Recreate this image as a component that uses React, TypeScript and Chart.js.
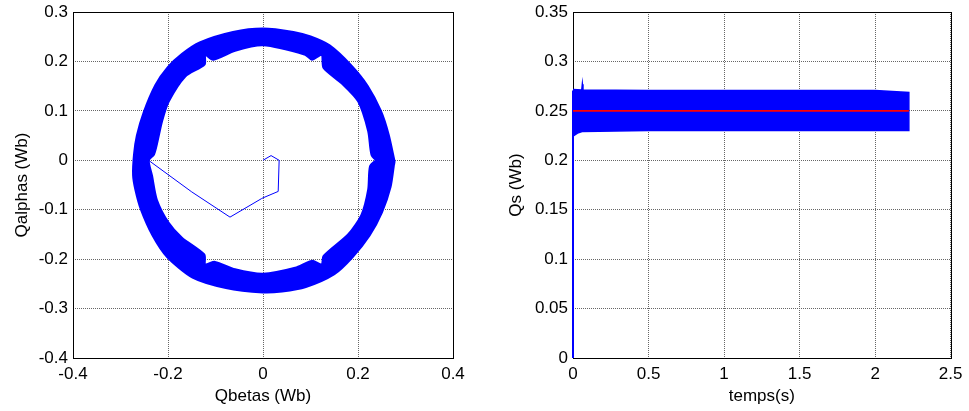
import React, { useEffect, useRef } from 'react';
import { Chart, registerables } from 'chart.js';
Chart.register(...registerables);

const FONT = '"Liberation Sans", Arial, Helvetica, sans-serif';

// ---------- Left plot: stator flux trajectory ----------
const outerX = [0.276, 0.264, 0.248, 0.22, 0.185, 0.14, 0.1, 0.064, 0.0, -0.063, -0.133, -0.17, -0.2, -0.226, -0.251, -0.265, -0.271, -0.273, -0.268, -0.257, -0.232, -0.201, -0.148, -0.078, 0.0, 0.04, 0.09, 0.15, 0.188, 0.224, 0.25, 0.268, 0.275];
const outerY = [0.0, 0.052, 0.099, 0.15, 0.192, 0.232, 0.25, 0.259, 0.266, 0.259, 0.238, 0.215, 0.188, 0.152, 0.096, 0.05, 0.012, -0.03, -0.06, -0.098, -0.152, -0.196, -0.237, -0.258, -0.267, -0.265, -0.256, -0.23, -0.196, -0.152, -0.105, -0.054, -0.01];
const innerX = [0.241, 0.229, 0.222, 0.201, 0.166, 0.128, 0.124, 0.103, 0.089, 0.0, -0.059, -0.105, -0.122, -0.1235, -0.164, -0.199, -0.213, -0.224, -0.23, -0.241, -0.234, -0.224, -0.199, -0.171, -0.124, -0.122, -0.101, -0.059, 0.0, 0.068, 0.103, 0.124, 0.128, 0.18, 0.208, 0.222, 0.226];
const innerY = [0.0, 0.011, 0.059, 0.119, 0.156, 0.187, 0.214, 0.204, 0.214, 0.233, 0.222, 0.204, 0.214, 0.194, 0.17, 0.119, 0.079, 0.032, 0.012, 0.0, -0.032, -0.08, -0.127, -0.157, -0.191, -0.211, -0.206, -0.221, -0.23, -0.218, -0.204, -0.211, -0.194, -0.15, -0.11, -0.059, -0.012];
const transientX = [0.0, 0.017, 0.034, 0.032, 0.0, -0.003, -0.0695, -0.15, -0.241];
const transientY = [0.0, 0.0095, 0.0, -0.063, -0.076, -0.0775, -0.115, -0.064, 0.0];

const xTicksLeft = [-0.4, -0.2, 0, 0.2, 0.4];
const xLabelsLeft = ['-0.4', '-0.2', '0', '0.2', '0.4'];
const yTicksLeft = [-0.4, -0.3, -0.2, -0.1, 0, 0.1, 0.2, 0.3];
const yLabelsLeft = ['-0.4', '-0.3', '-0.2', '-0.1', '0', '0.1', '0.2', '0.3'];

// ---------- Right plot: flux magnitude vs time ----------
const bandTopT = [0.0, 0.058, 0.062, 0.066, 0.5, 1.0, 1.5, 2.0, 2.223];
const bandTopQ = [0.2715, 0.271, 0.277, 0.271, 0.2705, 0.2705, 0.2705, 0.2705, 0.2685];
const bandBottomT = [0.0, 0.03, 0.06, 0.5, 1.0, 1.5, 2.0, 2.223];
const bandBottomQ = [0.2245, 0.2275, 0.229, 0.2302, 0.2302, 0.2302, 0.2302, 0.2302];
const startT = [0.0, 0.0];
const startQ = [0.0, 0.2705];
const refT = [0.0, 2.223];
const refQ = [0.25, 0.25];

const xTicksRight = [0, 0.5, 1, 1.5, 2, 2.5];
const xLabelsRight = ['0', '0.5', '1', '1.5', '2', '2.5'];
const yTicksRight = [0, 0.05, 0.1, 0.15, 0.2, 0.25, 0.3, 0.35];
const yLabelsRight = ['0', '0.05', '0.1', '0.15', '0.2', '0.25', '0.3', '0.35'];

const BLUE = '#0000ff';

const pts = (xs: number[], ys: number[]) => xs.map((x, i) => ({ x, y: ys[i] }));

const boxPlugin = {
  id: 'box',
  beforeDatasetsDraw(chart: any) {
    const { ctx, chartArea: a } = chart;
    ctx.save();
    ctx.strokeStyle = '#000';
    ctx.lineWidth = 1;
    ctx.strokeRect(Math.round(a.left) + 0.5, Math.round(a.top) + 0.5, Math.round(a.right - a.left), Math.round(a.bottom - a.top));
    ctx.restore();
  },
};

function axis(opts: {
  min: number; max: number; ticks: number[]; labels: string[]; title: string;
  horizontal: boolean; size: number; titlePad: number;
}) {
  return {
    type: 'linear',
    position: opts.horizontal ? 'bottom' : 'left',
    min: opts.min,
    max: opts.max,
    afterBuildTicks: (scale: any) => {
      scale.ticks = opts.ticks.map((v) => ({ value: v }));
    },
    afterFit: (scale: any) => {
      if (opts.horizontal) scale.height = opts.size;
      else scale.width = opts.size;
    },
    ticks: {
      color: '#000',
      font: opts.horizontal ? { family: FONT, size: 17 } : { family: FONT, size: 17, lineHeight: 0.8 },
      padding: opts.horizontal ? 6.5 : 5,
      maxRotation: 0,
      autoSkip: false,
      callback: (_v: any, i: number) => opts.labels[i],
    },
    grid: { color: '#666666', lineWidth: 1, drawTicks: false },
    border: { display: false, dash: [1, 1] },
    title: {
      display: true,
      text: opts.title,
      color: '#000',
      font: { family: FONT, size: 17 },
      padding: opts.horizontal ? { top: 0, bottom: 4 } : { top: opts.titlePad, bottom: 0 },
    },
  };
}

function baseOptions(padRight: number, x: any, y: any) {
  return {
    responsive: false,
    animation: false,
    events: [],
    layout: { padding: { top: 12, right: padRight, left: 0, bottom: 0 } },
    plugins: { legend: { display: false }, tooltip: { enabled: false } },
    elements: { point: { radius: 0 }, line: { tension: 0 } },
    scales: { x, y },
  };
}

function LeftChart() {
  const ref = useRef<HTMLCanvasElement>(null);
  useEffect(() => {
    const ringData = [
      ...pts(outerX, outerY),
      { x: outerX[0], y: outerY[0] },
      { x: innerX[0], y: innerY[0] },
      ...pts(innerX.slice(1).reverse(), innerY.slice(1).reverse()),
      { x: innerX[0], y: innerY[0] },
      { x: outerX[0], y: outerY[0] },
    ];
    const chart = new Chart(ref.current!, {
      type: 'line',
      data: {
        datasets: [
          { data: pts(transientX, transientY), borderColor: BLUE, borderWidth: 1, fill: false },
          { data: ringData, borderColor: BLUE, backgroundColor: BLUE, borderWidth: 2.5, borderJoinStyle: 'round', tension: 0.25, fill: 'shape' },
        ],
      },
      options: baseOptions(
        27,
        axis({ min: -0.4, max: 0.4, ticks: xTicksLeft, labels: xLabelsLeft, title: 'Qbetas (Wb)', horizontal: true, size: 53, titlePad: 0 }),
        axis({ min: -0.4, max: 0.3, ticks: yTicksLeft, labels: yLabelsLeft, title: 'Qalphas (Wb)', horizontal: false, size: 73, titlePad: 12.2 }),
      ) as any,
      plugins: [boxPlugin],
    });
    return () => chart.destroy();
  }, []);
  return <canvas ref={ref} width={480} height={411} style={{ position: 'absolute', left: 0, top: 0, display: 'block' }} />;
}

function RightChart() {
  const ref = useRef<HTMLCanvasElement>(null);
  useEffect(() => {
    const bandData = [
      ...pts(bandTopT, bandTopQ),
      ...pts(bandBottomT.slice().reverse(), bandBottomQ.slice().reverse()),
      { x: bandTopT[0], y: bandTopQ[0] },
    ];
    const chart = new Chart(ref.current!, {
      type: 'line',
      data: {
        datasets: [
          { data: pts(refT, refQ), borderColor: '#ff0000', borderWidth: 1.6, fill: false },
          { data: pts(startT, startQ), borderColor: BLUE, borderWidth: 2, fill: false, clip: false },
          { data: bandData, borderColor: BLUE, backgroundColor: BLUE, borderWidth: 1.5, fill: 'shape' },
        ],
      },
      options: baseOptions(
        17,
        axis({ min: 0, max: 2.5, ticks: xTicksRight, labels: xLabelsRight, title: 'temps(s)', horizontal: true, size: 53, titlePad: 0 }),
        axis({ min: 0, max: 0.35, ticks: yTicksRight, labels: yLabelsRight, title: 'Qs (Wb)', horizontal: false, size: 93, titlePad: 25.8 }),
      ) as any,
      plugins: [boxPlugin],
    });
    return () => chart.destroy();
  }, []);
  return <canvas ref={ref} width={489} height={411} style={{ position: 'absolute', left: 480, top: 0, display: 'block' }} />;
}

export default function App() {
  return (
    <div style={{ position: 'absolute', left: 0, top: 0, width: 969, height: 411, background: '#fff', overflow: 'hidden' }}>
      <LeftChart />
      <RightChart />
    </div>
  );
}
